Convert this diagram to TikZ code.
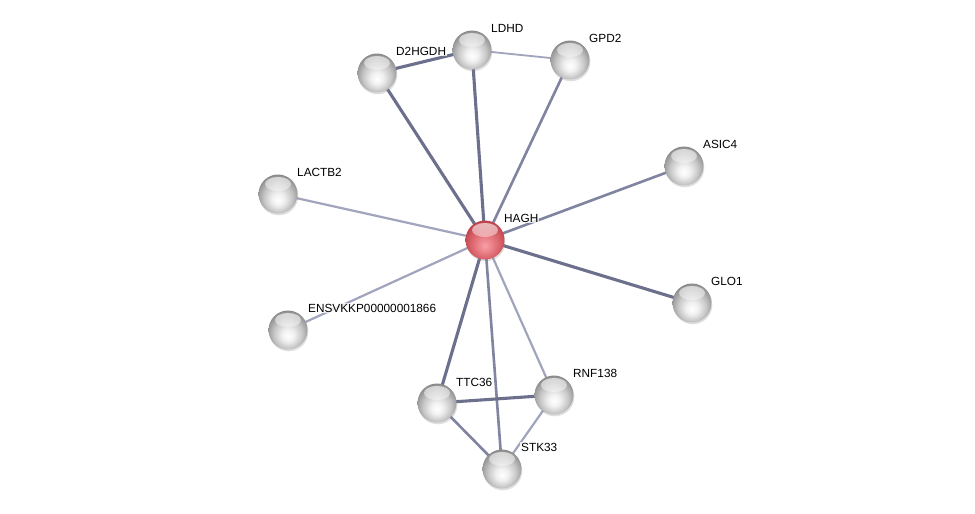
\documentclass[tikz,border=0pt]{standalone}
\usepackage{fontspec}
\setmainfont{Liberation Sans}
\usetikzlibrary{shadows,fadings}
\definecolor{estrong}{RGB}{108,112,140}
\definecolor{emed}{RGB}{128,132,160}
\definecolor{elight}{RGB}{160,164,188}
\pgfdeclareradialshading{greyball}{\pgfpoint{0bp}{-8bp}}{color(0bp)=(white); color(8bp)=(black!6); color(18bp)=(black!22); color(26bp)=(black!40); color(32bp)=(black!55); color(40bp)=(black!62); color(50bp)=(black!65)}
\pgfdeclareradialshading{redball}{\pgfpoint{0bp}{-8bp}}{color(0bp)=(rgb,255:red,246;green,160;blue,166); color(10bp)=(rgb,255:red,234;green,126;blue,134); color(20bp)=(rgb,255:red,214;green,94;blue,102); color(28bp)=(rgb,255:red,190;green,66;blue,76); color(34bp)=(rgb,255:red,160;green,48;blue,58); color(50bp)=(rgb,255:red,150;green,42;blue,52)}
\tikzset{
  ball/.style={circle, minimum size=39pt, inner sep=0pt, shading=greyball,
    drop shadow={opacity=0.25, shadow xshift=0.8pt, shadow yshift=-1.8pt},
    path picture={\fill[white, path fading=south, fill opacity=0.65]
      ([yshift=10pt]path picture bounding box.center) ellipse [x radius=13pt, y radius=7pt];}},
  redb/.style={ball, shading=redball},
  lbl/.style={anchor=base west, font=\fontsize{11.8}{14}\selectfont, text=black,
    fill=white, fill opacity=0.75, text opacity=1, inner sep=1pt},
  strong/.style={draw=estrong, line width=3.1pt},
  med/.style={draw=emed, line width=2.6pt},
  light/.style={draw=elight, line width=2.2pt},
  thin/.style={draw=elight, line width=1.8pt}
}
\begin{document}
\begin{tikzpicture}[x=1pt,y=-1pt]
\useasboundingbox[fill=white] (0,0) rectangle (975,514);
% coordinates for node centres
\coordinate (cHAGH) at (485,240);
\coordinate (cLDHD) at (472,50);
\coordinate (cD2) at (377,73);
\coordinate (cGPD2) at (570,60);
\coordinate (cASIC4) at (684,166);
\coordinate (cLACTB2) at (278,194);
\coordinate (cGLO1) at (692,303);
\coordinate (cENS) at (288,330);
\coordinate (cTTC36) at (437,403);
\coordinate (cRNF) at (554,395);
\coordinate (cSTK) at (502,469);
% edges
\draw[strong] (cD2) -- (cLDHD);
\draw[thin] (cLDHD) -- (cGPD2);
\draw[strong] (cHAGH) -- (cD2);
\draw[strong] (cHAGH) -- (cLDHD);
\draw[med] (cHAGH) -- (cGPD2);
\draw[med] (cHAGH) -- (cASIC4);
\draw[light] (cHAGH) -- (cLACTB2);
\draw[strong] (cHAGH) -- (cGLO1);
\draw[light] (cHAGH) -- (cENS);
\draw[strong] (cHAGH) -- (cTTC36);
\draw[med] (cHAGH) -- (cSTK);
\draw[light] (cHAGH) -- (cRNF);
\draw[strong] (cTTC36) -- (cRNF);
\draw[med] (cTTC36) -- (cSTK);
\draw[light] (cRNF) -- (cSTK);
% nodes
\node[redb] (HAGH) at (cHAGH) {};
\node[ball] (LDHD) at (cLDHD) {};
\node[ball] (D2HGDH) at (cD2) {};
\node[ball] (GPD2) at (cGPD2) {};
\node[ball] (ASIC4) at (cASIC4) {};
\node[ball] (LACTB2) at (cLACTB2) {};
\node[ball] (GLO1) at (cGLO1) {};
\node[ball] (ENS) at (cENS) {};
\node[ball] (TTC36) at (cTTC36) {};
\node[ball] (RNF138) at (cRNF) {};
\node[ball] (STK33) at (cSTK) {};
% labels
\node[lbl] (lHAGH) at ([shift={(18,-18)}]cHAGH) {HAGH};
\node[lbl] (lLDHD) at ([shift={(18,-18)}]cLDHD) {LDHD};
\node[lbl] (lD2) at ([shift={(18,-18)}]cD2) {D2HGDH};
\node[lbl] (lGPD2) at ([shift={(18,-18)}]cGPD2) {GPD2};
\node[lbl] (lASIC4) at ([shift={(18,-18)}]cASIC4) {ASIC4};
\node[lbl] (lLACTB2) at ([shift={(18,-18)}]cLACTB2) {LACTB2};
\node[lbl] (lGLO1) at ([shift={(18,-18)}]cGLO1) {GLO1};
\node[lbl] (lENS) at ([shift={(19,-18)}]cENS) {ENSVKKP00000001866};
\node[lbl] (lTTC36) at ([shift={(18,-17)}]cTTC36) {TTC36};
\node[lbl] (lRNF) at ([shift={(18,-18)}]cRNF) {RNF138};
\node[lbl] (lSTK) at ([shift={(18,-18)}]cSTK) {STK33};
\end{tikzpicture}
\end{document}
